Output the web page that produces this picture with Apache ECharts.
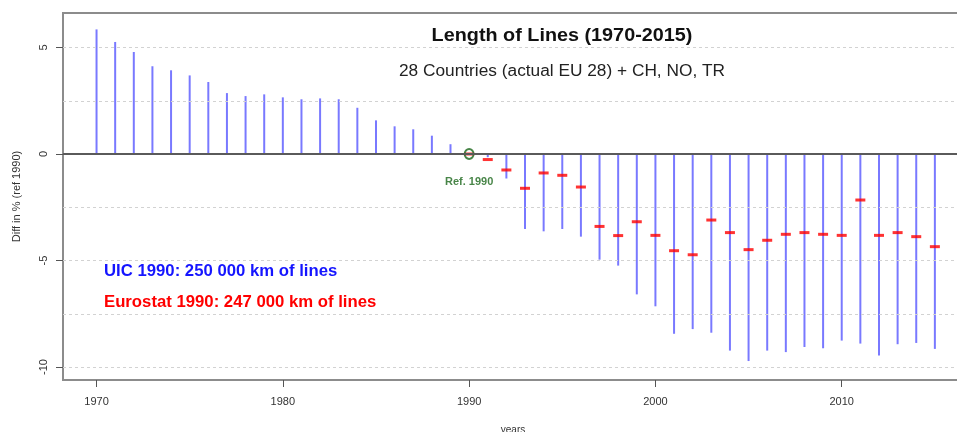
<!DOCTYPE html>
<html>
<head>
<meta charset="utf-8">
<script src="https://cdn.jsdelivr.net/npm/echarts@6/dist/echarts.min.js"></script>
<style>html,body{margin:0;padding:0;background:#fff}#c{width:957px;height:432px}</style>
</head>
<body>
<div id="c"></div>
<script>
// ---- data ----
const years = [1970,1971,1972,1973,1974,1975,1976,1977,1978,1979,1980,1981,1982,1983,1984,1985,1986,1987,1988,1989,1990,1991,1992,1993,1994,1995,1996,1997,1998,1999,2000,2001,2002,2003,2004,2005,2006,2007,2008,2009,2010,2011,2012,2013,2014,2015];
const uicDiff = [5.85,5.26,4.79,4.12,3.93,3.69,3.38,2.86,2.72,2.80,2.66,2.57,2.61,2.57,2.17,1.58,1.30,1.16,0.86,0.46,0,-0.15,-1.15,-3.52,-3.63,-3.52,-3.88,-4.96,-5.24,-6.59,-7.15,-8.44,-8.22,-8.39,-9.23,-9.72,-9.23,-9.30,-9.06,-9.12,-8.76,-8.90,-9.46,-8.93,-8.87,-9.15];
const eurostatYears = [1990,1991,1992,1993,1994,1995,1996,1997,1998,1999,2000,2001,2002,2003,2004,2005,2006,2007,2008,2009,2010,2011,2012,2013,2014,2015];
const eurostatDiff = [0,-0.26,-0.75,-1.61,-0.89,-1.00,-1.55,-3.40,-3.83,-3.18,-3.82,-4.54,-4.73,-3.10,-3.69,-4.49,-4.05,-3.77,-3.69,-3.77,-3.82,-2.16,-3.82,-3.69,-3.88,-4.35];
const xTicks = [1970,1980,1990,2000,2010];
const yTicks = [5,0,-5,-10];
const gridValues = [5,2.5,-2.5,-5,-7.5,-10];
const refYear = 1990;

const chart = echarts.init(document.getElementById('c'), null, {renderer:'canvas'});
const FONT = 'Liberation Sans, Arial, sans-serif';

const option = {
  animation: false,
  backgroundColor: '#ffffff',
  grid: {left: 63, top: 13, right: -6, bottom: 52, outerBoundsMode: 'none', containLabel: false, show: true, borderColor: '#8c8c8c', borderWidth: 2, backgroundColor: 'transparent'},
  xAxis: {
    type: 'value', min: 1968.2, max: 2016.51,
    axisLine: {show: true, onZero: false, lineStyle: {color: '#8c8c8c', width: 2}},
    axisTick: {show: true, length: 7, lineStyle: {color: '#555', width: 1}, customValues: xTicks},
    axisLabel: {show: true, margin: 16, color: '#333', fontFamily: FONT, fontSize: 11, customValues: xTicks, formatter: v => String(v)},
    splitLine: {show: false},
    name: 'years', nameLocation: 'middle', nameGap: 45,
    nameTextStyle: {color: '#333', fontFamily: FONT, fontSize: 10}
  },
  yAxis: {
    type: 'value', min: -10.61, max: 6.62,
    axisLine: {show: true, onZero: false, lineStyle: {color: '#8c8c8c', width: 2}},
    axisTick: {show: true, length: 7, lineStyle: {color: '#555', width: 1}, customValues: yTicks},
    axisLabel: {show: true, rotate: 90, margin: 14, color: '#333', fontFamily: FONT, fontSize: 11, customValues: yTicks, formatter: v => String(v), align: 'center', verticalAlign: 'bottom'},
    splitLine: {show: false},
    name: 'Diff in % (ref 1990)', nameLocation: 'middle', nameGap: 41, nameRotate: 90,
    nameTextStyle: {color: '#333', fontFamily: FONT, fontSize: 11}
  },
  series: [
    {
      type: 'scatter', z: 1, symbolSize: 0, silent: true,
      data: [[refYear, 0]],
      markLine: {
        silent: true, symbol: 'none', label: {show: false}, animation: false,
        lineStyle: {color: '#d2d2d2', type: [3,3], width: 1},
        data: gridValues.map(v => ({yAxis: v})).concat([{yAxis: 0, lineStyle: {color: '#5a5a5a', type: 'solid', width: 2}}])
      }
    },
    {
      type: 'custom', z: 2, silent: true,
      data: years.map((y, i) => [y, uicDiff[i]]),
      renderItem: function (params, api) {
        const p0 = api.coord([api.value(0), 0]);
        const p1 = api.coord([api.value(0), api.value(1)]);
        return {type: 'line', shape: {x1: p0[0], y1: p0[1], x2: p1[0], y2: p1[1]}, style: {stroke: '#6262ff', lineWidth: 2, opacity: 0.85}};
      }
    },
    {
      type: 'scatter', z: 3, silent: true,
      symbol: 'rect', symbolSize: [10, 3],
      itemStyle: {color: '#ff0000'},
      data: eurostatYears.map((y, i) => [y, eurostatDiff[i]])
    },
    {
      type: 'scatter', z: 4, silent: true,
      symbol: 'circle', symbolSize: [9, 10],
      itemStyle: {color: 'rgba(0,0,0,0)', borderColor: '#1a661a', borderWidth: 2},
      data: [[refYear, 0]],
      label: {show: true, position: 'bottom', distance: 16, formatter: 'Ref. 1990', color: '#1a661a', fontFamily: FONT, fontSize: 11, fontWeight: 'bold'}
    }
  ],
  graphic: [
    {type: 'text', x: 562, y: 36, scaleX: 1.10, style: {text: 'Length of Lines (1970-2015)', textAlign: 'center', textVerticalAlign: 'middle', font: 'bold 18px ' + FONT, fill: '#111'}},
    {type: 'text', x: 562, y: 72, scaleX: 1.08, style: {text: '28 Countries (actual EU 28) + CH, NO, TR', textAlign: 'center', textVerticalAlign: 'middle', font: '16px ' + FONT, fill: '#222'}},
    {type: 'text', x: 104, y: 272, scaleX: 1.045, style: {text: 'UIC 1990: 250 000 km of lines', textAlign: 'left', textVerticalAlign: 'middle', font: 'bold 16px ' + FONT, fill: '#1515ff'}},
    {type: 'text', x: 104, y: 303, scaleX: 1.045, style: {text: 'Eurostat 1990: 247 000 km of lines', textAlign: 'left', textVerticalAlign: 'middle', font: 'bold 16px ' + FONT, fill: '#ff0000'}}
  ]
};
chart.setOption(option);
</script>
</body>
</html>
